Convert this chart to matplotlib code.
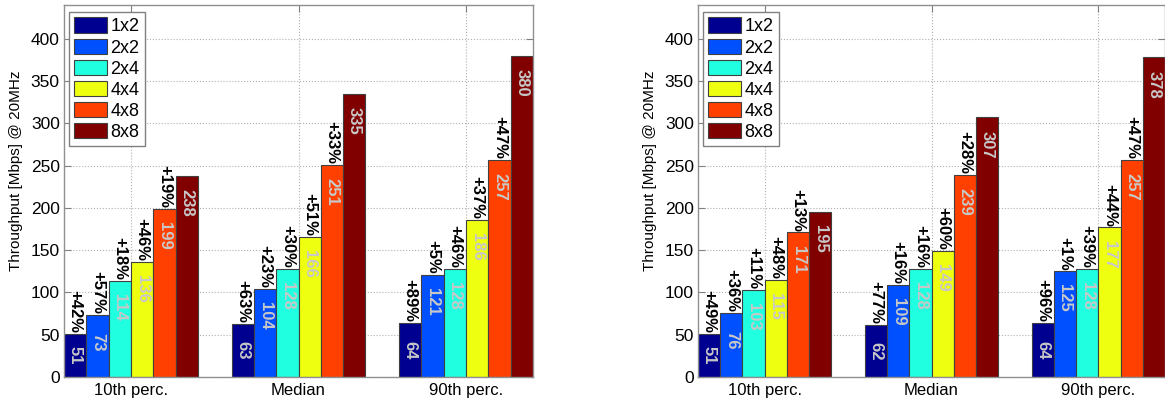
import matplotlib
matplotlib.use("Agg")
import matplotlib.pyplot as plt
import numpy as np

plt.rcParams['font.family'] = ['Liberation Sans', 'DejaVu Sans']

groups = ["10th perc.", "Median", "90th perc."]
configs = ["1x2", "2x2", "2x4", "4x4", "4x8", "8x8"]
colors = ["#000090", "#0050FF", "#20FFDF", "#EFFF10", "#FF4000", "#800000"]

# left panel: values per config (rows) for each group (columns)
left_vals = [
    [51, 63, 64],
    [73, 104, 121],
    [114, 128, 128],
    [136, 166, 186],
    [199, 251, 257],
    [238, 335, 380],
]
left_pct = [
    ["+42%", "+63%", "+89%"],
    ["+57%", "+23%", "+5%"],
    ["+18%", "+30%", "+46%"],
    ["+46%", "+51%", "+37%"],
    ["+19%", "+33%", "+47%"],
]

right_vals = [
    [51, 62, 64],
    [76, 109, 125],
    [103, 128, 128],
    [115, 149, 177],
    [171, 239, 257],
    [195, 307, 378],
]
right_pct = [
    ["+49%", "+77%", "+96%"],
    ["+36%", "+16%", "+1%"],
    ["+11%", "+16%", "+39%"],
    ["+48%", "+60%", "+44%"],
    ["+13%", "+28%", "+47%"],
]

yticks = [0, 50, 100, 150, 200, 250, 300, 350, 400]

fig = plt.figure(figsize=(11.65, 4.01), dpi=100)
ax1 = fig.add_axes([64/1165, 24/401, 469/1165, 372/401])
ax2 = fig.add_axes([698/1165, 24/401, 467/1165, 372/401])

nb = len(configs)
bw = 0.8 / nb
xc = np.arange(1, len(groups) + 1)

for ax, vals, pcts in [(ax1, left_vals, left_pct), (ax2, right_vals, right_pct)]:
    ax.set_axisbelow(True)
    for i in range(nb):
        xs = xc - 0.4 + bw * (i + 0.5)
        ax.bar(xs, vals[i], width=bw, color=colors[i], edgecolor="#404040",
               linewidth=0.8, label=configs[i], zorder=2)
        for j, x in enumerate(xs):
            v = vals[i][j]
            ty = max(v - 32, v / 2)
            ax.text(x, ty, str(v), rotation=-90, ha='center', va='center',
                    color="#C8C8C8", fontsize=12, fontweight='bold', zorder=3)
            if i < nb - 1:
                ax.text(x, v + 1, pcts[i][j], rotation=-90, ha='center', va='bottom',
                        color='black', fontsize=12, fontweight='bold', zorder=3)
    ax.set_xlim(0.6, 3.4)
    ax.set_ylim(0, 440)
    ax.set_xticks(xc)
    ax.set_xticklabels(groups, fontsize=12)
    ax.set_yticks(yticks)
    ax.set_yticklabels([str(t) for t in yticks], fontsize=12.5)
    ax.tick_params(direction='in', length=5, top=True, right=True, pad=3,
                   color="#808080")
    ax.tick_params(axis='x', pad=4)
    ax.grid(True, linestyle=':', color="#B0B0B0", linewidth=0.8)
    for s in ax.spines.values():
        s.set_color("#909090")
        s.set_linewidth(1.0)
    ax.set_ylabel("Throughput [Mbps] @ 20MHz", fontsize=11)
    ax.yaxis.set_label_coords(-0.088, 0.554)
    leg = ax.legend(loc='upper left', bbox_to_anchor=(0.0107, 0.981),
                    borderaxespad=0, fontsize=13, handlelength=1.8,
                    handleheight=0.95, labelspacing=0.17, handletextpad=0.2,
                    borderpad=0.3, fancybox=False, framealpha=1)
    leg.get_frame().set_edgecolor("#808080")
    leg.get_frame().set_linewidth(1.0)

fig.savefig("out.png", dpi=100)
